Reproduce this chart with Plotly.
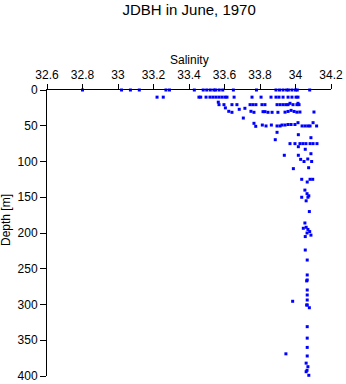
import plotly.graph_objects as go

# Salinity (PSU) and depth (m)
salinity = [
    # surface (0 m)
    32.80, 33.02, 33.07, 33.12, 33.27, 33.29, 33.43, 33.48, 33.50, 33.52, 33.54, 33.55,
    33.57, 33.59, 33.65, 33.78, 33.89, 33.91, 33.93, 33.95, 33.96, 33.98, 34.00, 34.01, 34.08,
    # ~10 m
    33.22, 33.255, 33.456, 33.466, 33.496, 33.518, 33.535, 33.552, 33.569, 33.586, 33.603,
    33.614, 33.654, 33.755, 33.806, 33.862, 33.890, 33.907, 33.930, 33.958, 33.980, 34.003,
    34.014,
    # ~20 m
    33.565, 33.569, 33.597, 33.642, 33.670, 33.744, 33.760, 33.777, 33.811, 33.828, 33.896,
    33.913, 33.930, 33.946, 33.958, 33.986, 34.008, 34.020, 33.969, 34.014,
    # ~30 m
    33.605, 33.624, 33.642, 33.683, 33.715, 33.749, 33.766, 33.817, 33.828, 33.845, 33.868,
    33.901, 33.941, 33.958, 33.975, 33.992, 34.008, 34.025, 34.104,
    # ~50 m
    33.706, 33.766, 33.776, 33.813, 33.834, 33.864, 33.896, 33.913, 33.924, 33.941, 33.958,
    33.975, 33.997, 34.014, 34.037, 34.054, 34.070, 34.082, 34.099, 34.119,
    # 60-130 m
    33.896, 34.016, 34.087, 33.886, 33.969, 33.997, 34.025, 34.042, 34.059, 34.082, 34.099,
    34.121, 34.016, 34.055, 33.937, 34.016, 34.087, 34.029, 34.048, 34.069, 34.091, 33.988,
    34.074, 34.035, 34.066, 34.082, 34.097,
    # 140-210 m
    34.053, 34.065, 34.070, 34.060, 34.075, 34.035, 34.078, 34.053, 34.060, 34.070, 34.065,
    34.080, 34.087, 34.044, 34.055,
    # deep
    34.055, 34.066, 34.066, 34.066, 34.063, 34.066, 34.066, 34.066, 34.066, 34.063, 33.984,
    34.078, 34.066, 34.066, 34.066, 34.066, 33.946, 34.060, 34.070, 34.065, 34.060, 34.075,
]
depth = [
    0, 0, 0, 0, 0, 0, 0, 0, 0, 0, 0, 0,
    0, 0, 0, 0, 0, 0, 0, 0, 0, 0, 0, 0, 0,
    10, 10, 10, 10, 10, 10, 10, 10, 10, 10, 10,
    10, 10, 10, 10, 10, 10, 10, 10, 10, 10, 10,
    10,
    17, 20.5, 20.5, 20.5, 20.5, 20.5, 20.5, 20.5, 20.5, 20.5, 20.5,
    20.5, 20.5, 20.5, 20.5, 20.5, 20.5, 20.5, 18.6, 18.6,
    25, 29.8, 31.2, 27, 25.6, 29.8, 31.2, 30.3, 30.3, 31.2, 31.2,
    31.2, 31, 30, 28.5, 30, 31, 30.8, 30.8,
    39.2, 46.6, 50.8, 49, 50.3, 49, 50.3, 50.3, 49, 49, 48.3,
    48.3, 48.3, 45.7, 50.3, 50.3, 50.3, 50.3, 45.7, 50.3,
    59.2, 62.5, 66.7, 69.5, 75, 75, 75, 75, 75, 75, 75,
    75, 79.3, 82.9, 91.3, 91.3, 89.1, 97, 100, 96.5, 100, 110,
    108.7, 124.9, 128.7, 124.9, 124.9,
    140, 145, 150, 155, 148, 150, 170, 186, 192, 195, 200,
    198, 203, 193.4, 205,
    223.8, 237.8, 258.7, 265.7, 267, 279.7, 286.7, 293.7, 300.7, 300.7, 295.5,
    304.5, 331, 347, 360, 372, 369, 382, 387, 392, 394, 399,
]

x_ticks = [32.6, 32.8, 33, 33.2, 33.4, 33.6, 33.8, 34, 34.2]
y_ticks = [0, 50, 100, 150, 200, 250, 300, 350, 400]

FONT = "Liberation Sans, Arial, sans-serif"

fig = go.Figure(
    go.Scatter(
        x=salinity, y=depth, mode="markers",
        marker=dict(symbol="square", size=3, color="#0000ff", line=dict(width=0)),
        cliponaxis=False, hoverinfo="skip",
    )
)

fig.update_layout(
    width=346, height=384,
    margin=dict(l=47, r=15, t=90, b=8, autoexpand=False),
    paper_bgcolor="white", plot_bgcolor="white",
    showlegend=False,
    font=dict(family=FONT, size=12, color="black"),
    title=dict(text="JDBH in June, 1970", x=0.5465, xanchor="center",
               y=1 - 10 / 384, yanchor="middle", yref="container",
               font=dict(family=FONT, size=15, color="black")),
    xaxis=dict(
        side="top", range=[32.6, 34.2], tickvals=x_ticks,
        ticktext=[f"{v:g}" for v in x_ticks],
        showline=True, linecolor="black", linewidth=1,
        ticks="outside", ticklen=5, tickcolor="black", tickwidth=1,
        showgrid=False, zeroline=False, automargin=False,
        tickfont=dict(family=FONT, size=12, color="black"),
    ),
    yaxis=dict(
        range=[400, 0], tickvals=y_ticks,
        showline=True, linecolor="black", linewidth=1,
        ticks="outside", ticklen=6, tickcolor="black", tickwidth=1,
        showgrid=False, zeroline=False, automargin=False,
        tickfont=dict(family=FONT, size=12, color="black"),
    ),
    annotations=[
        dict(text="Salinity", xref="paper", yref="paper", x=0.5, y=(376 - 60) / 286,
             xanchor="center", yanchor="middle", showarrow=False,
             font=dict(family=FONT, size=12, color="black")),
        dict(text="Depth [m]", xref="paper", yref="paper", x=(6 - 47) / 284,
             y=(376 - 220) / 286, xanchor="center", yanchor="middle",
             textangle=-90, showarrow=False,
             font=dict(family=FONT, size=12, color="black")),
    ],
)

fig.write_html("out.html")
